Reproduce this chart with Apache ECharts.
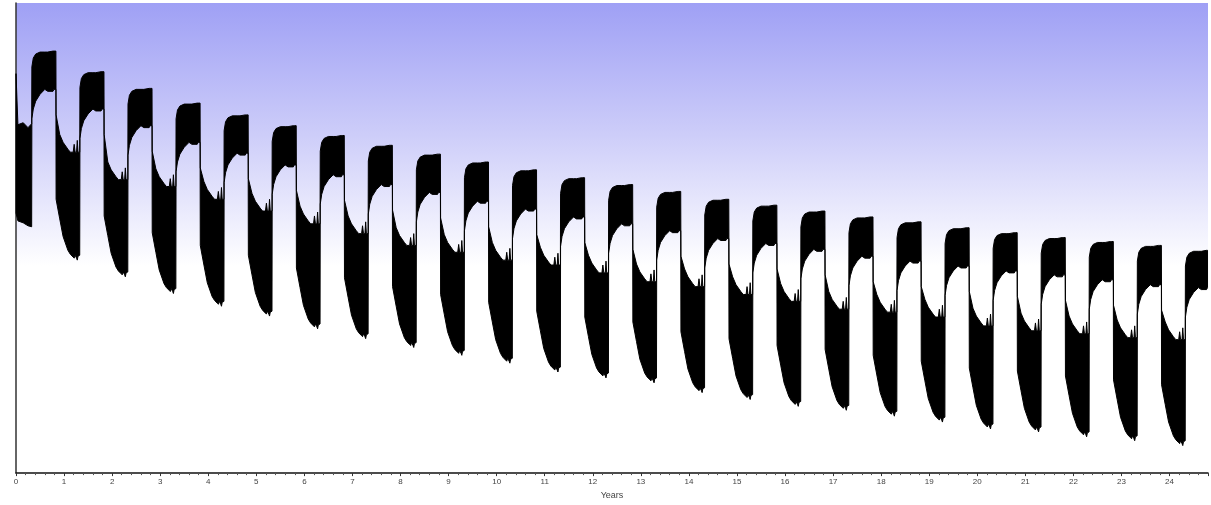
<!DOCTYPE html>
<html>
<head>
<meta charset="utf-8">
<script src="https://cdn.jsdelivr.net/npm/echarts@6/dist/echarts.min.js"></script>
<style>
  html, body { margin: 0; padding: 0; background: #fff; }
  #chart { width: 1211px; height: 505px; }
</style>
</head>
<body>
<div id="chart"></div>
<script>
  // levels, one per yearly cycle (0 = bottom of the plot)
  var peakTops = [430, 409, 392, 377, 365, 354, 344, 334, 325, 317, 309, 301, 294,
                  287, 279, 273, 267, 261, 256, 250, 245, 240, 236, 232, 227]
  var peakLows = [389, 369, 352, 335, 324, 312, 302, 292, 284, 275, 267, 259, 252,
                  245, 237, 232, 226, 219, 214, 209, 204, 200, 195, 190, 187]
  var troughTops = [327, 299, 292, 279, 267, 254, 244, 232, 225, 217, 212, 204,
                    195, 190, 182, 175, 167, 164, 159, 150, 145, 142, 138, 136]
  var troughLows = [219, 202, 185, 172, 162, 149, 139, 130, 122, 114, 105, 99,
                    94, 84, 77, 70, 66, 60, 54, 47, 44, 39, 35, 30]
  // the part before the first rise
  var startTimes = [0, 0.04, 0.15, 0.25, 0.326]
  var startTops = [407, 355, 357, 352, 356]
  var startLows = [265, 257, 255, 252, 251]
  var yearLabels = ['0', '1', '2', '3', '4', '5', '6', '7', '8', '9', '10', '11', '12',
                    '13', '14', '15', '16', '17', '18', '19', '20', '21', '22', '23', '24']

  var X_MAX = 24.8
  // where in each year the level jumps up and drops down
  var RISE = 0.33
  var FALL = 0.83
  // shape of the high block and of the noisy trough, offsets in years
  var peakDt = [0, 0.03, 0.08, 0.17, 0.27, 0.33, 0.44, 0.46, 0.5]
  var peakUp = [-16, -7, -3, -1, -1, -1, 0, 0, 0]
  var peakLo = [-28, -18, -10, -3, 2, 0, 0, 2, 2]
  var troughDt = [0.004, 0.08, 0.15, 0.25, 0.3, 0.36, 0.38, 0.40, 0.43, 0.445, 0.46, 0.496]
  var troughUp = [null, 18, 10, 3, 0, 0, 8, 0, 0, 12, 0, 0]
  var troughLo = [60, 40, 22, 8, 4, 1, 0, 3, 0, -2, 2, 3]

  var xs = []
  var upper = []
  var lower = []
  function add(t, u, l) {
    if (t > X_MAX) return
    xs.push(t)
    upper.push(u)
    lower.push(l)
  }
  for (var i = 0; i < startTimes.length; i++) {
    add(startTimes[i], startTops[i], startLows[i])
  }
  for (var n = 0; n < peakTops.length; n++) {
    var tr = n + RISE
    var tf = n + FALL
    for (var j = 0; j < peakDt.length; j++) {
      add(tr + peakDt[j], peakTops[n] + peakUp[j], peakLows[n] + peakLo[j])
    }
    if (n < troughTops.length) {
      for (var k = 0; k < troughDt.length; k++) {
        var u = troughUp[k] === null ? peakLows[n] - 24 : troughTops[n] + troughUp[k]
        add(tf + troughDt[k], u, troughLows[n] + troughLo[k])
      }
    }
  }

  var chart = echarts.init(document.getElementById('chart'), null, {renderer: 'canvas'})
  chart.setOption({
    animation: false,
    textStyle: {fontFamily: 'Liberation Sans'},
    grid: {
      left: 16,
      right: 0,
      top: 3,
      bottom: 23,
      show: true,
      borderWidth: 0,
      backgroundColor: new echarts.graphic.LinearGradient(0, 0, 0, 1, [
        {offset: 0, color: '#9fa0f5'},
        {offset: 0.28, color: '#cdcdf9'},
        {offset: 0.56, color: '#ffffff'},
        {offset: 1, color: '#ffffff'}
      ])
    },
    xAxis: {
      type: 'value',
      min: 0,
      max: X_MAX,
      interval: 1,
      name: 'Years',
      nameLocation: 'middle',
      nameGap: 12,
      nameTextStyle: {fontSize: 9, color: '#444'},
      axisLine: {lineStyle: {color: '#111', width: 1.5}},
      axisTick: {length: 3, lineStyle: {color: '#333'}},
      minorTick: {show: true, splitNumber: 5, length: 2, lineStyle: {color: '#555'}},
      splitLine: {show: false},
      axisLabel: {
        fontSize: 8,
        color: '#444',
        margin: 5,
        formatter: function (v) {
          return Number.isInteger(v) ? yearLabels[v] : ''
        }
      }
    },
    yAxis: {
      type: 'value',
      min: 0,
      max: 479,
      axisLine: {show: true, lineStyle: {color: '#333', width: 1.5}},
      axisTick: {show: false},
      axisLabel: {show: false},
      splitLine: {show: false}
    },
    series: [
      {
        name: 'level',
        type: 'custom',
        data: [[0, 0]],
        renderItem: function (params, api) {
          var pts = []
          for (var a = 0; a < xs.length; a++) {
            pts.push(api.coord([xs[a], upper[a]]))
          }
          for (var b = xs.length - 1; b >= 0; b--) {
            pts.push(api.coord([xs[b], lower[b]]))
          }
          return {
            type: 'polygon',
            shape: {points: pts},
            style: {fill: '#000', stroke: '#000', lineWidth: 1}
          }
        }
      }
    ]
  })
</script>
</body>
</html>
